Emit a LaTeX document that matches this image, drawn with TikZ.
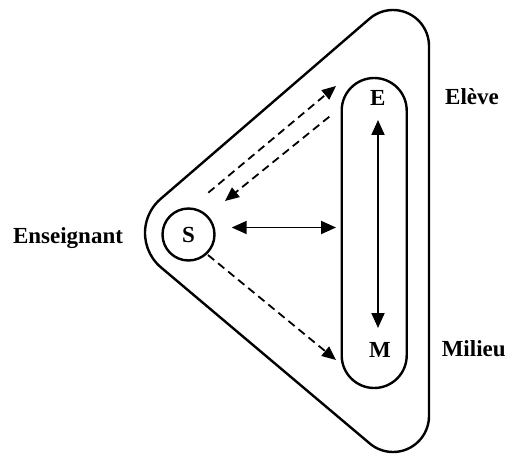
\documentclass[tikz,border=0pt]{standalone}
\usepackage{fontspec}
\setmainfont{Liberation Serif}
\usetikzlibrary{arrows.meta,calc}
\begin{document}
\begin{tikzpicture}[x=1pt,y=1pt,
  outline/.style={line width=2.4pt},
  lblfont/.style={font=\fontsize{23}{27}\selectfont\bfseries},
  lbl/.style={lblfont, inner sep=0pt, anchor=base},
  solidarrow/.style={line width=1.9pt, {Triangle[length=15pt,width=13pt]}-{Triangle[length=15pt,width=13pt]}},
  dasharrow/.style={line width=1.8pt, dash pattern=on 8pt off 5pt, -{Triangle[length=14pt,width=12pt]}}]
\useasboundingbox (0,0) rectangle (508,453);
% outer rounded triangle
\coordinate (L) at (190,220);
\coordinate (T) at (393,407);
\coordinate (B) at (393,37);
\draw[outline] ($(L)+(130.78:45)$) -- ($(T)+(130.78:36)$)
  arc[start angle=130.78,end angle=0,radius=36]
  -- ($(B)+(0:36)$)
  arc[start angle=0,end angle=-130.14,radius=36]
  -- ($(L)+(-130.14:45)$)
  arc[start angle=229.86,end angle=130.78,radius=45] -- cycle;
% S circle
\node[draw, circle, outline, lblfont, minimum size=52pt, inner sep=0pt] (S) at (188.5,218.5) {S};
% E-M stadium
\node[draw, outline, rounded corners=32.5pt, minimum width=65pt, minimum height=310pt, inner sep=0pt] (EM) at (374.2,220) {};
\node[lbl] (E) at (377.7,347) {E};
\node[lbl] (M) at (380,96) {M};
% labels
\node[lbl] (ens) at (68,210) {Enseignant};
\node[lbl] (eleve) at (472,348) {Elève};
\node[lbl] (milieu) at (473.7,97) {Milieu};
% solid arrows
\coordinate (v1) at (378,333);
\coordinate (v2) at (378,125);
\draw[solidarrow] (v1) -- (v2);
\coordinate (h1) at (231.7,225.5);
\coordinate (h2) at (336,225.5);
\draw[solidarrow] (h1) -- (h2);
% dashed arrows
\coordinate (d1a) at (208.3,260.3);
\coordinate (d1b) at (336,367);
\draw[dasharrow] (d1a) -- (d1b);
\coordinate (d2a) at (329.3,336.3);
\coordinate (d2b) at (225,252);
\draw[dasharrow] (d2a) -- (d2b);
\coordinate (d3a) at (208,198);
\coordinate (d3b) at (336,93);
\draw[dasharrow] (d3a) -- (d3b);
\end{tikzpicture}
\end{document}
